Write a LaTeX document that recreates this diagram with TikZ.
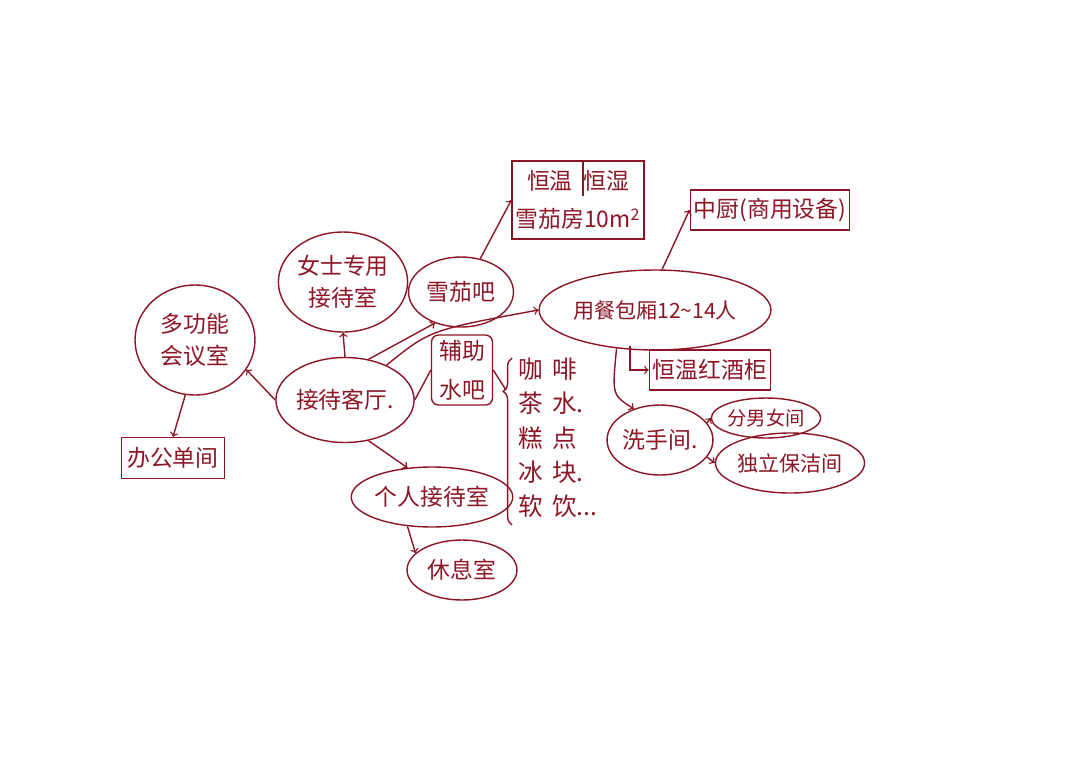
\documentclass[tikz,border=0pt]{standalone}
\usepackage{fontspec}
\newfontfamily\cjk{Noto Sans CJK SC}
\usetikzlibrary{shapes.geometric,decorations.pathreplacing}
\definecolor{ink}{RGB}{140,22,38}
\tikzset{
  room/.style={ellipse,draw=ink,thick,text=ink,align=center,inner sep=0pt,font=\cjk\fontsize{13}{18}\selectfont},
  roombox/.style={rectangle,draw=ink,thick,text=ink,align=center,inner sep=2pt,font=\cjk\fontsize{13}{22}\selectfont},
  link/.style={ink,thick,->},
  plain/.style={ink,thick}
}
\begin{document}
\begin{tikzpicture}[x=0.02cm,y=-0.02cm]
    \fill[white] (0,0) rectangle (1080,775);
    \useasboundingbox (0,0) rectangle (1080,775);
    % rooms
    \node[room,minimum width=2.5cm,minimum height=2.0cm] (lady) at (343,282) {女士专用\\接待室};
    \node[room,minimum width=2.1cm,minimum height=1.4cm] (cigar) at (461,292) {雪茄吧};
    \node[room,minimum width=2.4cm,minimum height=2.2cm] (multi) at (195,340) {多功能\\会议室};
    \node[room,font=\cjk\fontsize{12}{16}\selectfont,minimum width=3.9cm,minimum height=1.6cm] (meal) at (655,310) {用餐包厢12\textasciitilde14人};
    \node[room,minimum width=2.5cm,minimum height=1.7cm] (hall) at (345,400) {接待客厅.};
    \node[room,minimum width=2.0cm,minimum height=1.4cm] (wash) at (660,440) {洗手间.};
    \node[room,font=\cjk\fontsize{11}{14}\selectfont,minimum width=1.8cm,minimum height=0.8cm] (wc) at (766,418) {分男女间};
    \node[room,font=\cjk\fontsize{12}{16}\selectfont,minimum width=2.9cm,minimum height=1.2cm] (clean) at (790,463) {独立保洁间};
    \node[room,minimum width=2.4cm,minimum height=1.2cm] (solo) at (432,497) {个人接待室};
    \node[room,minimum width=2.2cm,minimum height=1.2cm] (rest) at (462,570) {休息室};
    % boxes
    \node[roombox,minimum width=2.5cm,minimum height=1.56cm] (humid) at (578,200) {恒温\hspace{6pt}恒湿\\雪茄房10m\textsuperscript{2}};
    \draw[plain] ([xshift=0.1cm]humid.north) -- ++(0,36);
    \node[roombox,minimum width=2.96cm,minimum height=0.8cm] (kitchen) at (770,210) {中厨(商用设备)};
    \node[roombox,minimum width=2.4cm,minimum height=0.8cm] (wine) at (710,370) {恒温红酒柜};
    \node[roombox,rounded corners=4pt,minimum width=1.22cm,minimum height=1.4cm] (aux) at (462,370) {辅助\\水吧};
    \node[roombox,minimum width=2.06cm,minimum height=0.82cm] (office) at (173,458) {办公单间};
    % drinks list
    \node[text=ink,align=left,font=\cjk\fontsize{14}{19.5}\selectfont] (menu) at (558,438)
      {咖\hspace{5pt}啡\\茶\hspace{5pt}水.\\糕\hspace{5pt}点\\冰\hspace{5pt}块.\\软\hspace{5pt}饮...};
    \draw[plain,decorate,decoration={brace,amplitude=5pt,aspect=0.8}] (512,525) -- (512,358);
    \coordinate (tip) at (506,390);
    % connectors
    \draw[link] (hall.west) -- (multi.-30);
    \draw[link] (multi.-100) -- (office.north);
    \draw[link] (hall.north) -- (lady.south);
    \draw[link] (hall.60) -- (cigar.-130);
    \draw[link] (hall.40) .. controls (430,330) .. (meal.west);
    \draw[plain] (hall.east) -- (aux.west);
    \draw[plain] (aux.east) -- (tip);
    \draw[link] (cigar.60) -- (humid.west);
    \draw[link] (meal.80) -- (kitchen.west);
    \draw[link] ([xshift=-0.5cm,yshift=0.1cm]meal.south) |- (wine.west);
    \draw[link] (meal.-135) .. controls (612,395) .. (wash.130);
    \draw[link] (wash.20) -- (wc.west);
    \draw[link] (wash.-20) -- (clean.west);
    \draw[link] (hall.-60) -- (solo.130);
    \draw[link] (solo.-130) -- (rest.160);
\end{tikzpicture}
\end{document}
